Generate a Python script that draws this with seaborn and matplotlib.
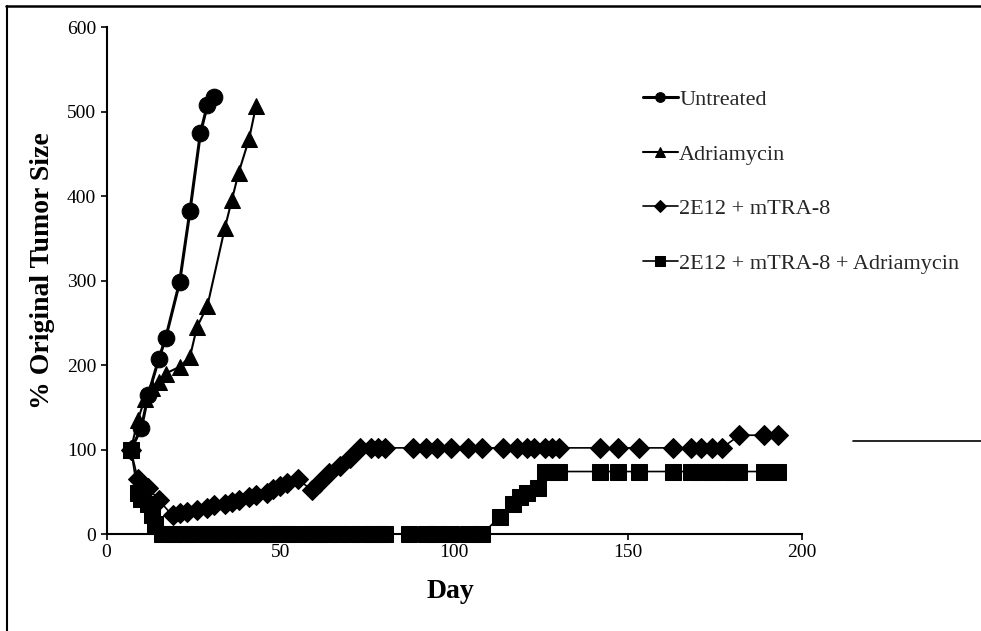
import matplotlib
matplotlib.use('Agg')
import matplotlib.pyplot as plt
import seaborn as sns
from matplotlib.lines import Line2D

# Values
untreated_day = [7, 10, 12, 15, 17, 21, 24, 27, 29, 31]
untreated_size = [100, 125, 165, 207, 232, 298, 383, 475, 508, 518]

adria_day = [7, 9, 11, 13, 15, 17, 21, 24, 26, 29, 34, 36, 38, 41, 43]
adria_size = [100, 135, 160, 173, 180, 190, 198, 210, 245, 270, 362, 395, 428, 468, 507]

combo_day = [7, 9, 12, 15, 19, 21, 23, 26, 29, 31, 34, 36, 38, 41, 43, 46, 48, 50, 52, 55,
             59, 61, 64, 67, 70, 73, 76, 78, 80, 88, 92, 95, 99, 104, 108, 114, 118, 121, 123,
             126, 128, 130, 142, 147, 153, 163, 168, 171, 174, 177, 182, 189, 193]
combo_size = [100, 65, 55, 40, 22, 25, 26, 28, 31, 34, 35, 38, 40, 44, 46, 49, 53, 57, 61, 65,
              52, 60, 72, 80, 90, 102, 102, 102, 102, 102, 102, 102, 102, 102, 102, 102, 102, 102, 102,
              102, 102, 102, 102, 102, 102, 102, 102, 102, 102, 102, 117, 117, 117]

triple_day = [7, 9, 10, 12, 13, 14, 16, 19, 21, 23, 26, 29, 31, 34, 36, 38, 41, 43, 46, 48, 50,
              52, 55, 59, 61, 64, 67, 70, 73, 76, 78, 80, 87, 92, 95, 99, 104, 108, 113, 117,
              119, 121, 124, 126, 128, 130, 142, 147, 153, 163, 168, 171, 174, 177, 180, 182, 189, 193]
triple_size = [100, 48, 42, 36, 22, 12, 0, 0, 0, 0, 0, 0, 0, 0, 0, 0, 0, 0, 0, 0, 0,
               0, 0, 0, 0, 0, 0, 0, 0, 0, 0, 0, 0, 0, 0, 0, 0, 0, 20, 35,
               44, 48, 55, 74, 74, 74, 74, 74, 74, 74, 74, 74, 74, 74, 74, 74, 74, 74]

labels = ['Untreated', 'Adriamycin', '2E12 + mTRA-8', '2E12 + mTRA-8 + Adriamycin']

sns.set_style('white')
plt.rcParams['font.family'] = ['Liberation Serif', 'DejaVu Serif']

fig = plt.figure(figsize=(9.81, 6.31), dpi=100)
ax = fig.add_axes([0.1086, 0.1537, 0.709, 0.803])

sns.lineplot(x=untreated_day, y=untreated_size, ax=ax, color='black', linewidth=2.2,
             marker='o', markersize=12, markeredgecolor='black', label=labels[0],
             estimator=None, clip_on=False)
sns.lineplot(x=adria_day, y=adria_size, ax=ax, color='black', linewidth=1.5,
             marker='^', markersize=11, markeredgecolor='black', label=labels[1],
             estimator=None, clip_on=False)
sns.lineplot(x=combo_day, y=combo_size, ax=ax, color='black', linewidth=1.2,
             marker='D', markersize=10, markeredgecolor='black', label=labels[2],
             estimator=None, clip_on=False)
sns.lineplot(x=triple_day, y=triple_size, ax=ax, color='black', linewidth=1.2,
             marker='s', markersize=11, markeredgecolor='black', label=labels[3],
             estimator=None, clip_on=False)

ax.set_xlim(0, 200)
ax.set_ylim(0, 600)
ax.set_xticks([0, 50, 100, 150, 200])
ax.set_yticks([0, 100, 200, 300, 400, 500, 600])
sns.despine(ax=ax)
for side in ['left', 'bottom']:
    ax.spines[side].set_color('black')
    ax.spines[side].set_linewidth(1.5)
ax.tick_params(axis='both', direction='out', length=4, width=1.2, color='black',
               labelsize=14, labelcolor='black', left=True, bottom=True)

ax.set_xlabel('Day', fontsize=20, fontweight='bold', color='black')
ax.set_ylabel('% Original Tumor Size', fontsize=20, fontweight='bold', color='black')
ax.xaxis.set_label_coords(0.495, -0.088)
ax.yaxis.set_label_coords(-0.074, 0.52)

leg = ax.legend(loc='upper left', bbox_to_anchor=(0.655, 0.858), bbox_transform=fig.transFigure,
                frameon=False, fontsize=16, handlelength=1.6, handletextpad=0.05,
                labelspacing=1.53, borderpad=0, borderaxespad=0)
for h, ms in zip(leg.legend_handles, [7, 7, 6, 7]):
    h.set_markersize(ms)

# scanned page border
fig.add_artist(Line2D([0.006, 1.0], [0.991, 0.991], transform=fig.transFigure, color='black', lw=1.8))
fig.add_artist(Line2D([0.007, 0.007], [0.0, 0.991], transform=fig.transFigure, color='black', lw=1.5))
fig.add_artist(Line2D([0.87, 1.0], [0.301, 0.301], transform=fig.transFigure, color='black', lw=1.2))

fig.savefig('out.png', dpi=100, facecolor='white')
